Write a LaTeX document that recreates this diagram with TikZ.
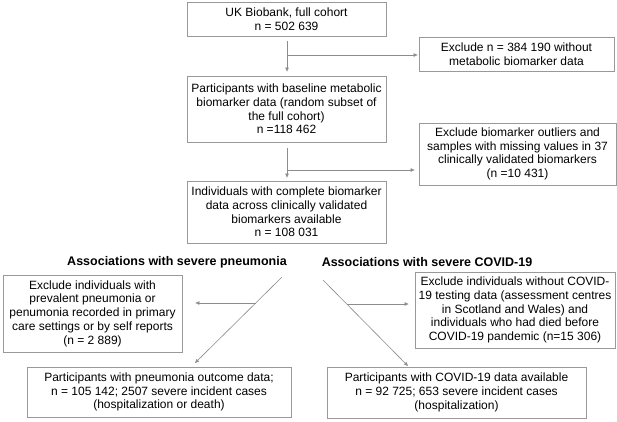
\documentclass[tikz,border=0pt]{standalone}
\usepackage{fontspec}
\setmainfont{Liberation Sans}
\usetikzlibrary{arrows.meta}
\definecolor{boxgray}{HTML}{999999}
\definecolor{linegray}{HTML}{8C8C8C}
\tikzset{
  box/.style={draw=boxgray, line width=0.8pt, align=center, inner sep=0pt,
    font=\fontsize{12}{13.7}\selectfont},
  conn/.style={draw=linegray, line width=0.6pt, -{Triangle[length=4pt,width=3.4pt]}},
  head/.style={font=\fontsize{12.5}{14}\selectfont\bfseries, inner sep=0pt}
}
\begin{document}
\begin{tikzpicture}[x=1pt,y=-1pt]
\useasboundingbox (0,0) rectangle (617,421);
\fill[white] (0,0) rectangle (617,421);

\node[box, minimum width=199pt, minimum height=34pt] (b1) at (286.5,19) {UK Biobank, full cohort\\n = 502 639};
\node[box, minimum width=195pt, minimum height=34pt] (b2) at (516.5,54) {Exclude n = 384 190 without\\metabolic biomarker data};
\node[box, minimum width=199pt, minimum height=66pt] (b3) at (286.5,109) {Participants with baseline metabolic\\biomarker data (random subset of\\the full cohort)\\n =118 462};
\node[box, minimum width=197pt, minimum height=62pt] (b4) at (517.5,154) {Exclude biomarker outliers and\\samples with missing values in 37\\clinically validated biomarkers\\(n =10 431)};
\node[box, minimum width=199pt, minimum height=62pt] (b5) at (286.5,212) {Individuals with complete biomarker\\data across clinically validated\\biomarkers available\\n = 108 031};

\node[head] (h1) at (177,262) {Associations with severe pneumonia};
\node[head] (h2) at (427,262) {Associations with severe COVID-19};

\node[box, minimum width=179pt, minimum height=77pt] (b6) at (92.5,313.5) {Exclude individuals with\\prevalent pneumonia or\\penumonia recorded in primary\\care settings or by self reports\\(n = 2 889)};
\node[box, minimum width=264pt, minimum height=50pt] (b7) at (159,392) {Participants with pneumonia outcome data;\\n = 105 142; 2507 severe incident cases\\(hospitalization or death)};
\node[box, minimum width=200pt, minimum height=76pt] (b8) at (515,310) {Exclude individuals without COVID-\\19 testing data (assessment centres\\in Scotland and Wales) and\\individuals who had died before\\COVID-19 pandemic (n=15 306)};
\node[box, minimum width=259pt, minimum height=51pt] (b9) at (456.5,392.5) {Participants with COVID-19 data available\\n = 92 725; 653 severe incident cases\\(hospitalization)};

% top flow
\draw[conn, shorten <=5pt, shorten >=4pt] (b1.south -| 287,0) -- (b3.north -| 287,0);
\coordinate (j1) at (287,55);
\draw[conn, shorten >=1pt] (j1) -- (b2.west |- j1);
\draw[conn, shorten <=6pt, shorten >=3pt] (b3.south -| 287,0) -- (b5.north -| 287,0);
\coordinate (j2) at (287,170);
\draw[conn, shorten >=4pt] (j2) -- (b4.west |- j2);

% left diagonal
\coordinate (l0) at (282,277);
\coordinate (l1) at (195,363);
\draw[conn] (l0) -- (l1);
\coordinate (lj) at (255.7,303);
\draw[conn, shorten >=13pt] (lj) -- (b6.east |- lj);

% right diagonal
\coordinate (r0) at (323,280);
\coordinate (r1) at (408,366);
\draw[conn] (r0) -- (r1);
\coordinate (rj) at (347,304);
\draw[conn, shorten >=6pt] (rj) -- (b8.west |- rj);
\end{tikzpicture}
\end{document}
